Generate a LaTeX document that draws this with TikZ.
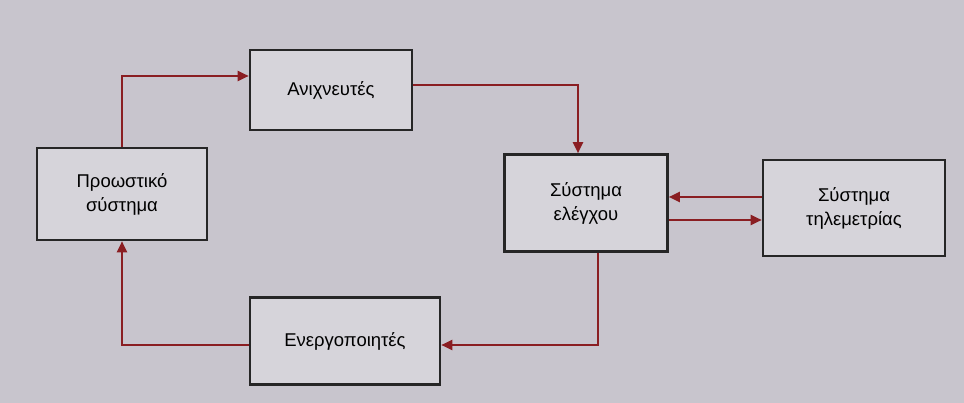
\documentclass[tikz,border=0pt]{standalone}
\usepackage{fontspec}
\setmainfont{Liberation Sans}
\usetikzlibrary{arrows.meta}
\definecolor{bg}{HTML}{C8C5CD}
\definecolor{boxbg}{HTML}{D6D4DA}
\definecolor{arr}{HTML}{8A1E22}
\begin{document}
\begin{tikzpicture}[x=1pt,y=-1pt,
  blk/.style={draw=black!85,line width=2.6pt,fill=boxbg,align=center,font=\fontsize{18.5}{24}\selectfont,inner sep=0pt},
  conn/.style={draw=arr,line width=2.2pt,-{Triangle[length=11pt,width=10pt]}}]
\fill[bg] (0,0) rectangle (964,403);
\useasboundingbox (0,0) rectangle (964,403);
\node[blk,minimum width=162pt,minimum height=80pt] (an) at (331,90) {Ανιχνευτές};
\node[blk,minimum width=170pt,minimum height=92pt] (pr) at (122,194) {Προωστικό\\σύστημα};
\node[blk,minimum width=163pt,minimum height=97pt] (el) at (586,203) {Σύστημα\\ελέγχου};
\node[blk,minimum width=182pt,minimum height=96pt] (ti) at (854,208) {Σύστημα\\τηλεμετρίας};
\node[blk,minimum width=190pt,minimum height=87pt] (en) at (345,341) {Ενεργοποιητές};
\draw[conn] (pr.north) |- (an.west |- 0,76);
\draw[conn] (an.east |- 0,85) -| (578,0 |- el.north);
\draw[conn] (598,0 |- el.south) |- (en.east |- 0,345);
\draw[conn] (en.west |- 0,345) -| (pr.south);
\draw[conn] (ti.west |- 0,197) -- (el.east |- 0,197);
\draw[conn] (el.east |- 0,220) -- (ti.west |- 0,220);
\end{tikzpicture}
\end{document}
